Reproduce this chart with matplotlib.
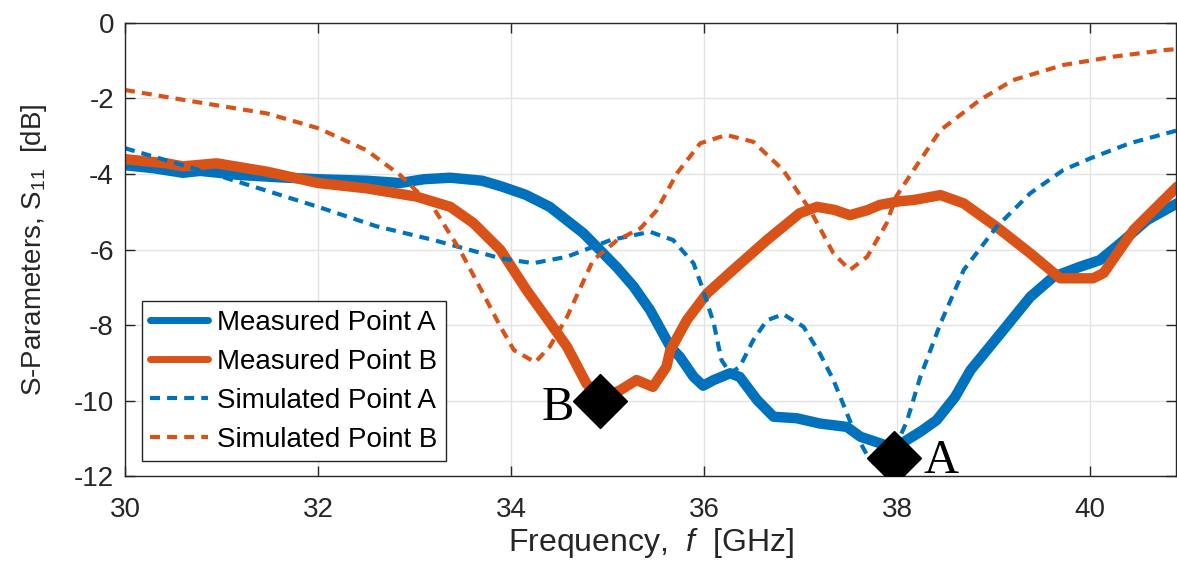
import numpy as np
import matplotlib.pyplot as plt

plt.rcParams['font.family'] = ['Liberation Sans', 'DejaVu Sans']
plt.rcParams['mathtext.fontset'] = 'custom'
plt.rcParams['mathtext.rm'] = 'Liberation Sans'
plt.rcParams['mathtext.it'] = 'Liberation Sans:italic'
plt.rcParams['axes.unicode_minus'] = False

BLUE = '#0072BD'
ORANGE = '#D95319'
DARK = '#262626'

# measured S11, point A
meas_a_f = [30.0, 30.3, 30.6, 30.78, 31.2, 31.6, 32.0, 32.5, 32.85, 33.1, 33.37,
            33.7, 33.9, 34.15, 34.4, 34.75, 34.92, 35.1, 35.27, 35.44, 35.65,
            35.75, 35.89, 35.99, 36.1, 36.27, 36.37, 36.55, 36.72, 36.96, 37.2,
            37.48, 37.62, 37.82, 37.96, 38.1, 38.25, 38.41, 38.6, 38.76, 39.1,
            39.38, 39.62, 39.9, 40.1, 40.31, 40.59, 40.9]
meas_a_db = [-3.77, -3.85, -3.97, -3.92, -4.03, -4.09, -4.14, -4.18, -4.24, -4.14, -4.1,
             -4.18, -4.33, -4.55, -4.87, -5.57, -6.01, -6.48, -6.98, -7.6, -8.57,
             -8.84, -9.36, -9.6, -9.45, -9.27, -9.37, -9.98, -10.42, -10.46, -10.6,
             -10.69, -10.95, -11.12, -11.25, -11.04, -10.8, -10.51, -9.9, -9.19, -8.13,
             -7.25, -6.72, -6.45, -6.28, -5.84, -5.22, -4.78]

# measured S11, point B
meas_b_f = [30.0, 30.43, 30.6, 30.95, 31.47, 32.0, 32.5, 33.02, 33.37, 33.61, 33.89,
            34.16, 34.38, 34.58, 34.78, 34.92, 35.13, 35.3, 35.47, 35.61, 35.65,
            35.82, 36.03, 36.3, 36.65, 36.99, 37.17, 37.35, 37.51, 37.69, 37.82,
            38.03, 38.17, 38.45, 38.69, 39.03, 39.38, 39.69, 40.03, 40.14, 40.45, 40.9]
meas_b_db = [-3.61, -3.72, -3.8, -3.72, -3.94, -4.24, -4.38, -4.6, -4.87, -5.3, -6.01,
             -7.07, -7.85, -8.57, -9.54, -9.95, -9.72, -9.45, -9.63, -9.1, -8.66,
             -7.87, -7.16, -6.54, -5.75, -5.04, -4.87, -4.95, -5.09, -4.96, -4.82,
             -4.72, -4.69, -4.56, -4.78, -5.4, -6.1, -6.76, -6.76, -6.62, -5.48, -4.34]

# simulated S11, point A
sim_a_f = [30.0, 31.0, 32.0, 32.6, 33.2, 33.89, 34.23, 34.58, 35.03, 35.44, 35.68,
           35.89, 35.99, 36.1, 36.18, 36.27, 36.37, 36.51, 36.65, 36.82, 37.03,
           37.2, 37.34, 37.48, 37.55, 37.69, 37.76, 37.85, 37.95, 38.1, 38.24,
           38.45, 38.69, 39.03, 39.38, 39.72, 40.0, 40.41, 40.9]
sim_a_db = [-3.32, -4.07, -4.87, -5.38, -5.75, -6.23, -6.36, -6.19, -5.75, -5.53, -5.75,
            -6.36, -7.07, -7.95, -8.92, -9.27, -9.1, -8.39, -7.87, -7.71, -8.04,
            -8.75, -9.45, -10.33, -10.78, -11.44, -11.65, -11.7, -11.4, -10.55, -9.37,
            -7.95, -6.54, -5.4, -4.51, -3.9, -3.59, -3.19, -2.85]

# simulated S11, point B
sim_b_f = [30.0, 30.6, 31.47, 32.0, 32.5, 32.85, 33.19, 33.47, 33.71, 33.89, 34.03,
           34.25, 34.4, 34.58, 34.85, 35.1, 35.34, 35.51, 35.72, 35.96, 36.23,
           36.51, 36.82, 37.1, 37.34, 37.51, 37.69, 37.89, 37.99, 38.17, 38.45,
           38.86, 39.2, 39.72, 40.24, 40.79, 40.9]
sim_b_db = [-1.78, -2.04, -2.4, -2.79, -3.37, -4.03, -4.87, -6.01, -7.16, -8.04, -8.66,
            -8.98, -8.57, -7.78, -6.28, -5.75, -5.44, -4.96, -3.98, -3.19, -2.97,
            -3.15, -3.9, -4.96, -6.1, -6.54, -6.19, -5.31, -4.6, -3.9, -2.84,
            -2.04, -1.52, -1.12, -0.9, -0.72, -0.7]

# resonance markers
mark_labels = ['B', 'A']
mark_f = [34.92, 37.97]
mark_db = [-10.0, -11.5]

fig = plt.figure(figsize=(11.77, 5.72), dpi=100)
ax = fig.add_axes([0.1062, 0.1670, 0.8930, 0.7934])

ax.plot(meas_a_f, meas_a_db, color=BLUE, lw=7.5, solid_joinstyle='round',
        solid_capstyle='round', label='Measured Point A')
ax.plot(meas_b_f, meas_b_db, color=ORANGE, lw=7.5, solid_joinstyle='round',
        solid_capstyle='round', label='Measured Point B')
ax.plot(sim_a_f, sim_a_db, color=BLUE, lw=3, dashes=(2.4, 1.7),
        label='Simulated Point A')
ax.plot(sim_b_f, sim_b_db, color=ORANGE, lw=3, dashes=(2.4, 1.7),
        label='Simulated Point B')

ax.plot(mark_f, mark_db, 'D', color='black', ms=27, ls='none', zorder=5)
ax.text(mark_f[0] - 0.6, mark_db[0] - 0.51, mark_labels[0], family='Liberation Serif',
        fontsize=35, ha='left', va='baseline')
ax.text(mark_f[1] + 0.3, mark_db[1] - 0.41, mark_labels[1], family='Liberation Serif',
        fontsize=35, ha='left', va='baseline')

ax.set_xlim(30, 40.89)
ax.set_ylim(-12, 0)
ax.set_xticks(np.arange(30, 41, 2))
ax.set_yticks(np.arange(-12, 1, 2))
ax.grid(True, color='#e3e3e3', lw=1)
ax.set_axisbelow(True)
ax.tick_params(direction='in', length=7, width=1, top=True, right=True,
               labelsize=20, colors=DARK)
ax.tick_params(axis='x', pad=15)
ax.tick_params(axis='y', pad=8)
for s in ax.spines.values():
    s.set_color(DARK)
    s.set_linewidth(1)

ax.set_xlabel('Frequency,  $\\mathit{f}$  [GHz]', fontsize=23, color=DARK, labelpad=2)
ax.set_ylabel('S-Parameters, S$_{11}$  [dB]', fontsize=20, color=DARK, labelpad=18)

leg = ax.legend(loc='lower left', bbox_to_anchor=(0.016, 0.034), fontsize=20,
                frameon=True, fancybox=False, framealpha=1, edgecolor=DARK,
                handlelength=2.1, handletextpad=0.3, labelspacing=0.47,
                borderpad=0.3, borderaxespad=0)
leg.get_frame().set_linewidth(1)
for h in leg.get_lines()[:2]:
    h.set_linewidth(5)

fig.savefig('out.png', dpi=100)
